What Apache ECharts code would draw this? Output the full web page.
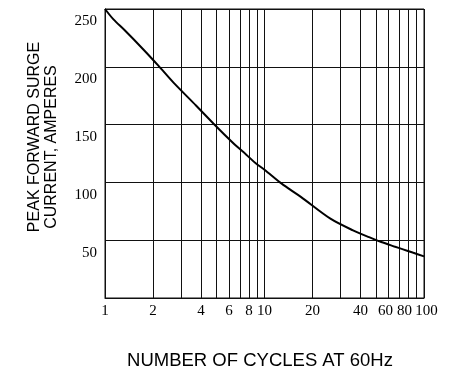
<!DOCTYPE html>
<html>
<head>
<meta charset="utf-8">
<script src="https://cdn.jsdelivr.net/npm/echarts@6/dist/echarts.min.js"></script>
<style>
html,body{margin:0;padding:0;background:#fff;}
#chart{width:453px;height:383px;}
</style>
</head>
<body>
<div id="chart"></div>
<script>
// Data (x on a log scale anchored at the 1 / 10 / 100 decades)
var cycles = [1, 1.13, 1.32, 1.74, 2.16, 2.68, 3.72, 4.78, 5.6, 6.72, 7.69, 8.81, 10, 12.5, 14.5, 16.9, 25.9, 35.9, 45.7, 54, 65.1, 73.9, 84.9, 100];
var amperes = [250, 241, 232, 215, 201, 186.5, 166.5, 151, 141.5, 131, 124, 116.5, 111, 100, 93.7, 87.5, 68.6, 58.5, 52.4, 48.4, 44.6, 42.1, 39.3, 36];
var xGridValues = [1, 2, 3, 4, 5, 6, 7, 8, 9, 10, 20, 30, 40, 50, 60, 70, 80, 90, 100];
var xTickLabels = [1, 2, 4, 6, 8, 10, 20, 40, 60, 80, 100];
var yTickLabels = [50, 100, 150, 200, 250];
var yTitleLines = ['PEAK FORWARD SURGE', 'CURRENT, AMPERES'];
var xTitle = 'NUMBER OF CYCLES AT 60Hz';

var points = cycles.map(function (c, i) { return [c, amperes[i]]; });

var chart = echarts.init(document.getElementById('chart'), null, { renderer: 'canvas' });
var lineColor = '#111';
var richBase = { fontFamily: 'Liberation Serif', fontSize: 15, color: '#000' };
chart.setOption({
  animation: false,
  backgroundColor: '#fff',
  grid: {
    left: 105, right: 29, top: 9, bottom: 85,
    show: true, borderColor: lineColor, borderWidth: 1, backgroundColor: 'transparent'
  },
  xAxis: {
    type: 'log',
    logBase: 10,
    min: 1,
    max: 100,
    axisLine: { show: true, lineStyle: { color: lineColor, width: 1 } },
    axisTick: { show: false, customValues: xGridValues },
    splitLine: { show: true, lineStyle: { color: lineColor, width: 1 } },
    minorTick: { show: false },
    axisLabel: {
      customValues: xTickLabels,
      color: '#000',
      fontFamily: 'Liberation Serif',
      fontSize: 15,
      margin: 6,
      hideOverlap: false,
      showMaxLabel: true,
      showMinLabel: true,
      formatter: function (v) {
        if (v === 60) return '{s|60}';
        if (v === 80) return '{l|80}';
        if (v === 100) return '{r|100}';
        return String(v);
      },
      rich: {
        s: Object.assign({ padding: [0, 6, 0, 0] }, richBase),
        l: Object.assign({ padding: [0, 8, 0, 0] }, richBase),
        r: Object.assign({ padding: [0, 0, 0, 5] }, richBase)
      }
    }
  },
  yAxis: {
    type: 'value',
    min: 0,
    max: 250,
    interval: 50,
    axisLine: { show: true, lineStyle: { color: lineColor, width: 1 } },
    axisTick: { show: false },
    splitLine: { show: true, lineStyle: { color: lineColor, width: 1 } },
    axisLabel: {
      color: '#000',
      fontFamily: 'Liberation Serif',
      fontSize: 15,
      margin: 8,
      verticalAlign: 'top',
      padding: [5, 0, 0, 0],
      formatter: function (v) { return yTickLabels.indexOf(v) >= 0 ? String(v) : ''; }
    }
  },
  graphic: [
    {
      type: 'text', x: 35, y: 137, rotation: Math.PI / 2,
      style: { text: yTitleLines[0], fontFamily: 'Liberation Sans', fontSize: 16, fill: '#000', align: 'center', verticalAlign: 'middle' }
    },
    {
      type: 'text', x: 52, y: 147, rotation: Math.PI / 2,
      style: { text: yTitleLines[1], fontFamily: 'Liberation Sans', fontSize: 16, fill: '#000', align: 'center', verticalAlign: 'middle' }
    },
    {
      type: 'text', x: 260, y: 361,
      style: { text: xTitle, fontFamily: 'Liberation Sans', fontSize: 18.5, fill: '#000', align: 'center', verticalAlign: 'middle' }
    }
  ],
  series: [{
    type: 'line',
    data: points,
    smooth: 0.3,
    symbol: 'none',
    lineStyle: { color: '#000', width: 2 },
    z: 5
  }]
});
</script>
</body>
</html>
